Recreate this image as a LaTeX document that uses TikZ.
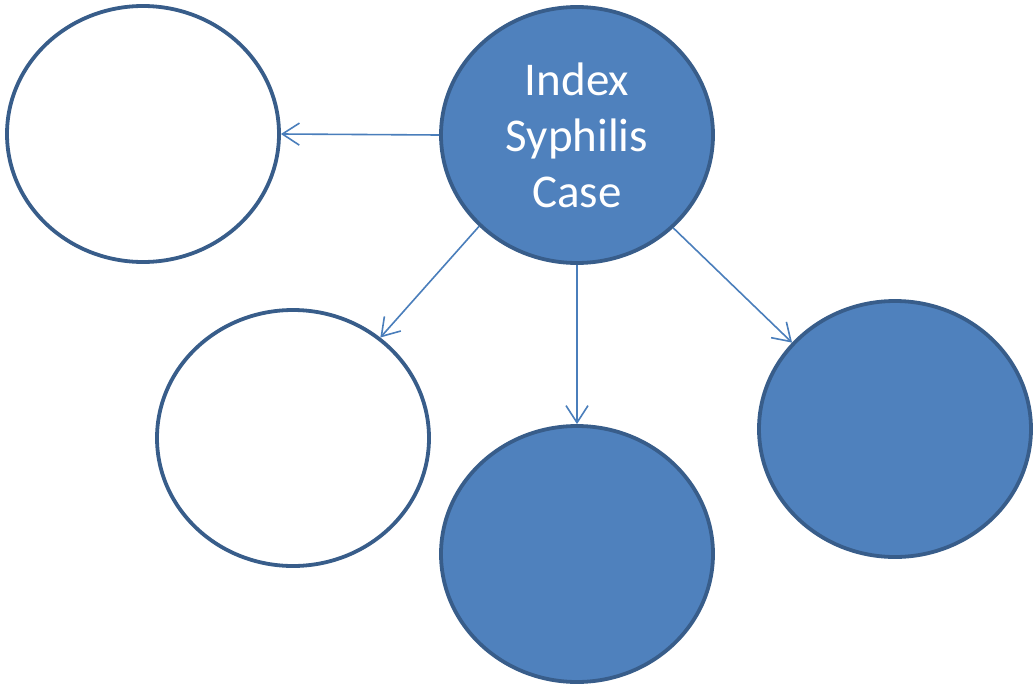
\documentclass[tikz,border=0pt]{standalone}
\usepackage{fontspec}
\setmainfont{Carlito}
\usetikzlibrary{arrows.meta, shapes.geometric}
\definecolor{casefill}{HTML}{4F81BD}
\definecolor{caseline}{HTML}{385D8A}
\definecolor{linkline}{HTML}{4A7EBB}

\begin{document}
\begin{tikzpicture}
  [x=0.5pt, y=-0.5pt,
   contact/.style={ellipse, draw=caseline, line width=1.9pt, fill=white,
     minimum width=136pt, minimum height=128pt, inner sep=0pt},
   infected/.style={contact, fill=casefill},
   link/.style={draw=linkline, line width=0.8pt,
     -{Straight Barb[length=8.5pt, width=11pt]}}]
  \useasboundingbox (0, 0) rectangle (1034, 686);
  \node (idx) at (577, 135) [infected, text=white, align=center,
    font=\fontsize{23.5}{28}\selectfont] {Index\\Syphilis\\Case};
  \node (c1) at (143, 134) [contact] {};
  \node (c2) at (293, 438) [contact] {};
  \node (c3) at (577, 554) [infected] {};
  \node (c4) at (895, 429) [infected] {};
  \draw [link] (idx.west) to (c1.east);
  \draw [link] (idx.223) to (c2.49);
  \draw [link] (idx.south) to (c3.north);
  \draw [link] (idx.316) to (c4.140);
\end{tikzpicture}
\end{document}
